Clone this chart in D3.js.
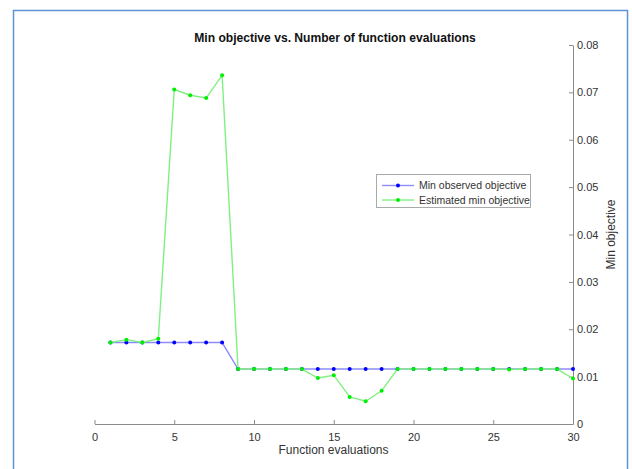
<!DOCTYPE html>
<html><head><meta charset="utf-8">
<script src="https://cdn.jsdelivr.net/npm/d3@7"></script>
<style>
html,body{margin:0;padding:0;background:#fff;}
svg{display:block;font-family:"Liberation Sans",Arial,sans-serif;}
</style></head>
<body>
<script>
const evals = d3.range(1, 31);
const minObserved = [0.0172,0.0172,0.0172,0.0172,0.0172,0.0172,0.0172,0.0172,
  0.0116,0.0116,0.0116,0.0116,0.0116,0.0116,0.0116,0.0116,0.0116,0.0116,0.0116,0.0116,
  0.0116,0.0116,0.0116,0.0116,0.0116,0.0116,0.0116,0.0116,0.0116,0.0116];
const estimatedMin = [0.0172,0.0178,0.0172,0.0180,0.0706,0.0694,0.0688,0.0736,
  0.0116,0.0116,0.0116,0.0116,0.0116,0.0097,0.0103,0.0057,0.0048,0.0070,0.0116,0.0116,
  0.0116,0.0116,0.0116,0.0116,0.0116,0.0115,0.0116,0.0116,0.0116,0.0096];
const xTicks = [0,5,10,15,20,25,30];
const yTicks = [0,0.01,0.02,0.03,0.04,0.05,0.06,0.07,0.08];
const seriesNames = ["Min observed objective","Estimated min objective"];
const title = "Min objective vs. Number of function evaluations";
const xLabel = "Function evaluations";
const yLabel = "Min objective";

const W = 632, H = 469;
const svg = d3.select("body").append("svg").attr("width", W).attr("height", H);

// frame
svg.append("path").attr("d", "M13.5,469 V10.5 H627.5 V469")
  .attr("fill","none").attr("stroke","#5f93d8").attr("stroke-width",1.5);

const x = d3.scaleLinear().domain([0,30]).range([94.5,573]);
const y = d3.scaleLinear().domain([0,0.08]).range([424,45]);

const axisColor = "#8a8a8a", textColor = "#333333";

// x axis
const gx = svg.append("g").attr("transform","translate(0,424)")
  .call(d3.axisBottom(x).tickValues(xTicks).tickSizeInner(-4).tickSizeOuter(0).tickPadding(9).tickFormat(d3.format("d")));
gx.select(".domain").attr("stroke",axisColor);
gx.selectAll(".tick line").attr("stroke",axisColor);
gx.selectAll("text").attr("fill",textColor).attr("font-size",11).attr("font-family","Liberation Sans, Arial, sans-serif");

// y axis (right)
const gy = svg.append("g").attr("transform","translate(573,0)")
  .call(d3.axisRight(y).tickValues(yTicks).tickSizeInner(-4).tickSizeOuter(0).tickPadding(4)
    .tickFormat(d => d === 0 ? "0" : d3.format(".2f")(d)));
gy.select(".domain").attr("stroke",axisColor);
gy.selectAll(".tick line").attr("stroke",axisColor);
gy.selectAll("text").attr("fill",textColor).attr("font-size",11).attr("font-family","Liberation Sans, Arial, sans-serif")
  .attr("x", 4);

// title and labels
svg.append("text").attr("x",335).attr("y",42).attr("text-anchor","middle")
  .attr("font-size",12.1).attr("font-weight","bold").attr("fill","#111").text(title);
svg.append("text").attr("x",333.5).attr("y",454).attr("text-anchor","middle")
  .attr("font-size",12).attr("fill",textColor).text(xLabel);
svg.append("text").attr("transform","translate(615,234.5) rotate(-90)").attr("text-anchor","middle")
  .attr("font-size",12).attr("fill",textColor).text(yLabel);

const line = d3.line().x((d,i)=>x(evals[i])).y(d=>y(d));
const series = [
  {vals:minObserved, lineColor:"#8c8cff", dot:"#0000ff"},
  {vals:estimatedMin, lineColor:"#80f080", dot:"#00ee00"}
];
series.forEach(s => {
  svg.append("path").datum(s.vals).attr("d",line).attr("fill","none")
    .attr("stroke",s.lineColor).attr("stroke-width",1.4);
  svg.append("g").selectAll("circle").data(s.vals).join("circle")
    .attr("cx",(d,i)=>x(evals[i])).attr("cy",d=>y(d)).attr("r",2).attr("fill",s.dot);
});

// legend
const lg = svg.append("g");
lg.append("rect").attr("x",376.5).attr("y",174.5).attr("width",154).attr("height",33)
  .attr("fill","#fff").attr("stroke","#aaaaaa").attr("stroke-width",1);
series.forEach((s,i) => {
  const yy = 185.5 + i*14.5;
  lg.append("line").attr("x1",382).attr("x2",414).attr("y1",yy).attr("y2",yy)
    .attr("stroke",s.lineColor).attr("stroke-width",1.4);
  lg.append("circle").attr("cx",398).attr("cy",yy).attr("r",2).attr("fill",s.dot);
  lg.append("text").attr("x",419).attr("y",yy+3.8).attr("font-size",10.5).attr("fill",textColor).text(seriesNames[i]);
});
</script>
</body></html>
